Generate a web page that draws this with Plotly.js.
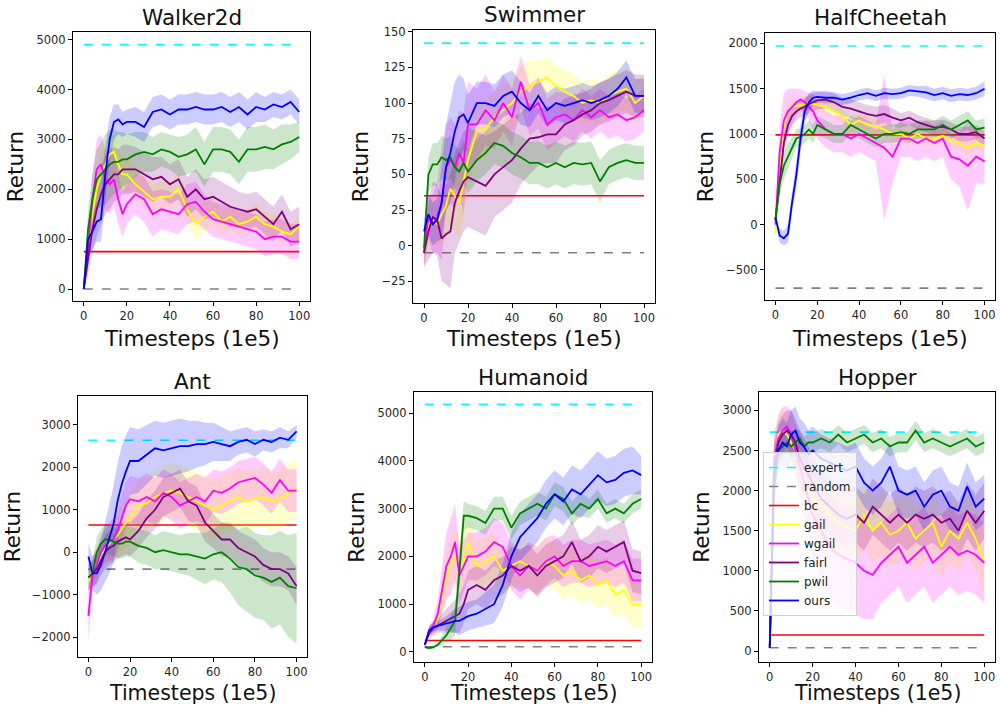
<!DOCTYPE html>
<html><head><meta charset="utf-8">
<script src="https://cdn.plot.ly/plotly-3.0.1.min.js"></script>
<style>html,body{margin:0;padding:0;background:#fff}#plot{width:1000px;height:706px}</style>
</head><body><div id="plot"></div>
<script>
// ---------- data ----------
const X = [0,2,4,6,8,10,12,14,16,18,20,24,28,32,36,40,44,48,52,56,60,64,68,72,76,80,84,88,92,96,100];
const METHODS = ['gail','wgail','fairl','pwil','ours'];
const PANELS = ['Walker2d','Swimmer','HalfCheetah','Ant','Humanoid','Hopper'];
const EXPERT = [4900, 142, 1970, 2640, 5180, 2730];
const RANDOM = [0, -5, -700, -400, 110, 40];
const BC = [750, 35, 990, 640, 240, 200];

// Walker2d
const W_gail = [0,700,1500,2000,2300,2500,2700,2750,2500,2300,2300,2100,1950,1800,1850,1850,2000,1600,1300,1450,1550,1350,1450,1300,1350,1450,1300,1250,1150,1100,1250];
const W_gail_sd = [0,300,400,450,450,450,400,400,350,350,350,300,300,300,300,300,300,300,300,300,300,250,250,250,250,250,250,250,250,200,200];
const W_wgail = [0,800,1800,2400,2500,2200,2100,2200,1800,1500,1700,1900,1800,1500,1600,1550,1500,1700,1750,1550,1400,1350,1300,1250,1200,1150,1000,1050,1050,950,950];
const W_wgail_sd = [0,300,500,600,600,600,600,550,500,450,400,400,450,450,400,400,400,400,400,350,350,350,350,350,350,350,350,350,350,350,350];
const W_fairl = [0,600,1200,1600,1900,2100,2200,2300,2300,2400,2400,2400,2300,2200,2250,2100,2200,1850,2000,1800,1850,1750,1650,1600,1550,1600,1450,1300,1550,1200,1300];
const W_fairl_sd = [0,300,450,550,600,600,600,550,500,500,500,450,450,450,400,400,400,400,400,400,400,400,400,350,350,350,350,350,350,350,350];
const W_pwil = [0,1200,1800,2200,2300,2400,2500,2550,2550,2600,2600,2700,2750,2700,2800,2750,2650,2700,2800,2500,2800,2800,2750,2550,2800,2800,2850,2800,2900,2950,3050];
const W_pwil_sd = [0,400,500,600,650,700,700,650,600,550,500,450,400,350,350,350,400,400,450,450,450,450,450,450,450,450,450,400,400,350,300];
const W_ours = [0,1000,1150,1350,1400,2300,3000,3350,3400,3300,3350,3350,3250,3550,3600,3500,3600,3600,3650,3600,3600,3650,3550,3650,3500,3650,3600,3700,3650,3750,3550];
const W_ours_sd = [0,300,350,400,450,550,450,350,300,250,250,300,300,300,300,300,300,300,300,300,300,300,300,300,300,300,250,250,250,250,250];

// Swimmer
const S_gail = [-5,15,18,15,22,28,40,35,30,45,60,80,82,90,95,100,108,112,115,118,112,108,105,100,102,100,105,108,110,100,105];
const S_gail_sd = [10,15,15,15,20,25,25,25,25,25,20,20,20,18,18,18,18,18,15,15,15,15,15,15,15,15,15,15,15,15,15];
const S_wgail = [-5,20,15,20,30,55,60,55,65,58,85,85,95,88,100,90,115,95,100,85,90,92,88,95,90,95,90,92,88,90,95];
const S_wgail_sd = [10,15,20,25,40,30,30,30,30,35,30,25,25,20,20,20,18,18,18,18,18,15,15,15,15,15,15,15,15,15,15];
const S_fairl = [-5,10,20,18,5,8,10,30,38,45,48,45,42,50,55,60,68,75,76,78,78,85,88,92,95,100,102,105,108,105,105];
const S_fairl_sd = [10,20,25,25,30,35,40,35,35,35,35,35,35,30,30,30,25,25,20,20,20,18,18,15,15,15,15,15,15,15,15];
const S_pwil = [-2,50,57,57,62,60,62,55,52,58,52,60,65,72,70,65,62,58,58,55,58,55,58,57,58,45,55,58,60,58,58];
const S_pwil_sd = [5,12,15,15,15,15,15,15,15,15,15,15,15,15,15,15,15,15,15,15,15,15,15,15,15,15,12,12,12,12,12];
const S_ours = [10,22,15,18,30,55,65,80,90,92,86,100,100,98,105,108,100,95,105,95,100,98,100,102,100,102,105,110,118,105,105];
const S_ours_sd = [8,15,15,15,25,30,35,35,30,25,20,15,15,15,15,15,15,12,12,12,12,12,12,12,12,12,12,12,12,12,12];

// HalfCheetah
const H_gail = [-100,600,1100,1250,1300,1310,1320,1330,1340,1330,1320,1300,1250,1200,1100,1150,1100,1080,1050,1000,1000,950,1000,950,950,980,920,900,850,900,870];
const H_gail_sd = [100,150,120,100,90,80,80,80,80,80,80,80,80,80,80,80,80,80,80,80,80,80,80,80,80,80,80,80,80,80,80];
const H_wgail = [0,800,1150,1250,1300,1350,1380,1350,1300,1250,1150,1050,1000,1000,950,1000,950,900,850,750,950,950,900,950,900,950,750,720,650,750,700];
const H_wgail_sd = [100,300,300,250,200,150,120,120,150,200,200,200,200,200,200,200,200,200,800,300,200,200,200,200,200,200,250,300,500,300,250];
const H_fairl = [50,500,900,1100,1200,1250,1280,1300,1330,1350,1370,1380,1350,1300,1280,1250,1220,1200,1220,1180,1150,1180,1130,1100,1070,1080,1050,1000,1000,1020,950];
const H_fairl_sd = [80,150,120,100,100,100,100,100,100,100,100,100,100,100,100,100,100,100,100,100,80,80,80,80,80,80,80,80,80,80,80];
const H_pwil = [50,450,650,750,850,950,970,1000,1050,1000,1100,1050,1000,1000,1100,1050,1000,950,1000,1000,1020,1000,1050,1050,1050,1100,1050,1100,1150,1050,1070];
const H_pwil_sd = [80,150,150,150,120,100,100,100,100,100,100,100,100,100,100,100,100,100,100,100,100,100,100,100,100,100,100,100,100,100,100];
const H_ours = [80,-120,-150,-100,250,550,950,1250,1350,1400,1410,1400,1400,1380,1400,1430,1450,1420,1450,1440,1450,1480,1470,1460,1430,1450,1420,1440,1430,1450,1500];
const H_ours_sd = [50,80,80,100,120,150,150,120,100,80,60,60,60,60,60,60,60,60,60,60,60,60,60,70,70,70,70,70,70,70,80];

// Ant
const A_gail = [-700,-400,-300,-100,100,200,300,400,550,700,800,1100,1150,1300,1400,1450,1400,1300,1200,1100,1000,1100,1200,1300,1200,1250,1300,1200,1250,1400,1500];
const A_gail_sd = [300,400,400,400,400,450,500,500,550,600,600,600,600,650,650,650,650,700,700,700,700,700,700,700,700,700,700,700,700,700,700];
const A_wgail = [-1500,-500,-300,0,150,250,300,500,800,1100,1250,1200,1300,1200,1400,1300,1100,1200,1300,1200,1450,1400,1500,1650,1700,1750,1600,1400,1700,1450,1450];
const A_wgail_sd = [600,400,400,400,400,450,500,500,550,550,550,550,550,550,550,550,550,550,550,550,500,500,500,500,500,500,500,500,500,500,500];
const A_fairl = [-600,-500,-400,-200,0,100,150,250,300,350,300,500,800,1000,1300,1400,1500,1200,1100,700,500,300,300,100,0,-100,-300,-400,-400,-500,-800];
const A_fairl_sd = [300,300,350,350,400,400,400,400,400,400,400,400,450,450,450,450,450,450,450,450,400,400,400,400,400,400,400,400,400,400,450];
const A_pwil = [-600,-500,0,200,300,300,250,200,200,250,250,150,100,0,50,0,-50,-50,-100,-150,-50,0,-150,-350,-400,-550,-600,-700,-600,-800,-850];
const A_pwil_sd = [300,300,350,350,350,350,350,350,350,350,350,400,400,400,450,450,450,500,550,600,600,700,800,900,1000,1000,1000,1100,1100,1200,1300];
const A_ours = [-100,-500,-500,-300,0,300,650,1200,1600,1900,2150,2150,2300,2450,2400,2450,2500,2500,2550,2550,2600,2550,2500,2600,2650,2550,2650,2600,2700,2650,2850];
const A_ours_sd = [300,400,500,600,700,800,900,900,900,850,800,750,700,650,650,650,650,600,550,500,450,400,350,300,300,300,250,250,250,200,150];

// Humanoid
const M_gail = [150,450,500,700,1200,1600,1900,2000,1800,1900,2300,1800,1900,2000,1700,1800,1900,1800,1700,1900,1800,1600,1700,1500,1600,1400,1500,1200,1300,1000,1000];
const M_gail_sd = [50,100,150,250,400,500,500,600,600,600,550,500,500,500,500,500,500,500,500,500,500,500,500,500,500,500,500,500,500,500,500];
const M_wgail = [150,450,550,800,1300,1800,2000,2300,1600,1800,2000,2000,2100,2300,2200,1800,1600,1800,1700,1900,2000,1800,1900,1900,1800,1850,1900,1800,1900,1500,1500];
const M_wgail_sd = [50,100,150,300,500,700,800,800,600,550,500,500,500,500,500,500,500,500,500,500,450,450,450,450,450,450,450,450,450,450,450];
const M_fairl = [150,400,500,550,600,650,700,750,800,1000,1300,1400,1300,1500,1600,1800,1700,1800,1600,1800,1900,2000,2300,1900,2000,2200,2100,2200,2300,1700,1650];
const M_fairl_sd = [50,100,150,150,200,250,300,350,400,400,400,400,400,400,400,400,450,450,450,450,450,450,450,450,450,450,450,450,450,450,450];
const M_pwil = [100,80,100,150,250,350,500,650,1700,2850,2850,2800,2700,3000,3000,2600,2900,3000,3100,3000,3300,3200,2900,3100,3000,3200,2900,3000,2900,3100,3200];
const M_pwil_sd = [30,30,40,50,100,150,250,300,400,300,250,250,250,250,250,250,250,250,250,250,250,250,250,250,200,200,200,200,200,200,200];
const M_ours = [150,450,520,550,570,600,620,650,650,700,750,800,900,1000,1400,2000,2400,2600,2800,3100,3300,3150,3400,3300,3500,3700,3550,3600,3750,3800,3700];
const M_ours_sd = [50,100,100,100,120,150,200,250,300,300,300,300,350,400,450,500,500,500,500,500,500,500,500,500,500,500,500,500,500,500,400];

// Hopper
const P_gail = [40,2300,2700,2750,2700,2600,2500,2300,2100,2000,1900,1800,1700,1600,1550,1500,1700,1500,1600,1450,1500,1600,1400,1500,1600,1300,1500,1400,1600,1400,1100];
const P_gail_sd = [20,300,250,250,250,300,300,350,350,350,400,400,400,400,400,400,400,400,400,400,400,400,400,400,400,400,400,400,400,400,400];
const P_wgail = [40,2400,2650,2750,2800,2700,2500,2300,2100,1900,1700,1500,1300,1200,1150,1100,1000,950,1100,1200,1300,1100,1200,1300,1100,1200,1300,1200,1250,1200,1100];
const P_wgail_sd = [20,300,300,300,250,300,350,400,450,500,550,600,650,650,650,650,600,550,500,500,500,500,500,500,500,500,500,500,500,500,500];
const P_fairl = [40,2300,2600,2700,2750,2700,2600,2400,2300,2200,2100,1900,1800,1700,1650,1700,1600,1800,1700,1600,1700,1600,1700,1650,1700,1600,1650,1500,1750,1600,1750];
const P_fairl_sd = [20,300,250,250,250,300,300,350,350,350,350,350,350,350,350,350,350,350,350,350,350,350,350,350,350,350,350,350,350,350,350];
const P_pwil = [40,2000,2500,2550,2600,2550,2600,2650,2550,2600,2600,2650,2600,2700,2600,2650,2700,2600,2650,2550,2600,2600,2750,2600,2650,2600,2550,2600,2650,2550,2600];
const P_pwil_sd = [20,300,200,150,150,120,120,120,120,120,120,120,120,120,120,120,120,120,120,120,120,120,120,120,120,120,120,120,120,120,120];
const P_ours = [40,2200,2500,2600,2550,2700,2750,2600,2550,2450,2500,2400,2350,2300,2250,2300,2100,2000,2100,2300,2000,1950,2000,1800,1950,2000,1800,1750,2050,1800,1900];
const P_ours_sd = [20,300,300,300,300,300,300,300,300,300,300,300,300,300,300,300,300,300,300,300,300,300,300,300,300,300,300,300,300,300,300];

const Y_TICKS = [[0,1000,2000,3000,4000,5000],[-25,0,25,50,75,100,125,150],[-500,0,500,1000,1500,2000],[-2000,-1000,0,1000,2000,3000],[0,1000,2000,3000,4000,5000],[0,500,1000,1500,2000,2500,3000]];
const X_TICKS = [0,20,40,60,80,100];
const X_TITLE = 'Timesteps (1e5)';
const Y_TITLE = 'Return';

// ---------- presentation ----------
const SERIES = [
  [[W_gail,W_gail_sd],[W_wgail,W_wgail_sd],[W_fairl,W_fairl_sd],[W_pwil,W_pwil_sd],[W_ours,W_ours_sd]],
  [[S_gail,S_gail_sd],[S_wgail,S_wgail_sd],[S_fairl,S_fairl_sd],[S_pwil,S_pwil_sd],[S_ours,S_ours_sd]],
  [[H_gail,H_gail_sd],[H_wgail,H_wgail_sd],[H_fairl,H_fairl_sd],[H_pwil,H_pwil_sd],[H_ours,H_ours_sd]],
  [[A_gail,A_gail_sd],[A_wgail,A_wgail_sd],[A_fairl,A_fairl_sd],[A_pwil,A_pwil_sd],[A_ours,A_ours_sd]],
  [[M_gail,M_gail_sd],[M_wgail,M_wgail_sd],[M_fairl,M_fairl_sd],[M_pwil,M_pwil_sd],[M_ours,M_ours_sd]],
  [[P_gail,P_gail_sd],[P_wgail,P_wgail_sd],[P_fairl,P_fairl_sd],[P_pwil,P_pwil_sd],[P_ours,P_ours_sd]]
];
const COLORS = {gail:[255,255,0], wgail:[255,0,255], fairl:[128,0,128], pwil:[0,128,0], ours:[0,0,255]};
// pixel boxes [left, right, top, bottom] and y ranges
const BOX = [[73,310,32,301],[413,655,30,303],[765,995,33,300],[78,307,396,657],[414,652,392,662],[759,995,392,662]];
const XTITLE_Y = [338,338,338,693,693,693];
const XTITLE_SIZE = [21.5,21.5,21.5,20.5,20.5,20.5];
const YR = [[-240,5154],[-40.2,151.2],[-831,2114],[-2471,3683],[-210,5440],[-137,3230]];
const W = 1000, H = 706;
const FONT = 'DejaVu Sans, Liberation Sans, sans-serif';

const traces = [];
const layout = {
  width: W, height: H, margin: {l:0,r:0,t:0,b:0},
  paper_bgcolor:'#fff', plot_bgcolor:'#fff', showlegend:true,
  font: {family: FONT, color:'#000'},
  legend: {x: 763/W, y: 1-452/H, xanchor:'left', yanchor:'top', bgcolor:'rgba(255,255,255,0.8)',
           bordercolor:'#d0d0d0', borderwidth:1, font:{size:12, family:FONT, color:'#222'}, tracegroupgap:0, itemwidth:30},
  annotations: []
};
const rgb = (c,a) => a===undefined ? `rgb(${c[0]},${c[1]},${c[2]})` : `rgba(${c[0]},${c[1]},${c[2]},${a})`;

PANELS.forEach((name, i) => {
  const k = i+1;
  const xa = 'x'+(k===1?'':k), ya = 'y'+(k===1?'':k);
  const b = BOX[i];
  const last = (i === PANELS.length-1);
  layout['xaxis'+(k===1?'':k)] = {
    domain:[b[0]/W, b[1]/W], range:[-5,105], anchor: ya,
    tickvals: X_TICKS, ticks:'outside', ticklen:4, tickcolor:'#000', tickwidth:1,
    showline:true, mirror:true, linecolor:'#000', linewidth:1, showgrid:false, zeroline:false,
    tickfont:{size:11.5, color:'#262626', family:FONT}, automargin:false
  };
  layout['yaxis'+(k===1?'':k)] = {
    domain:[1-b[3]/H, 1-b[2]/H], range:YR[i], anchor: xa,
    tickvals: Y_TICKS[i], ticks:'outside', ticklen:4, tickcolor:'#000', tickwidth:1,
    showline:true, mirror:true, linecolor:'#000', linewidth:1, showgrid:false, zeroline:false,
    tickfont:{size:11.5, color:'#262626', family:FONT}, automargin:false,
    title:{text:Y_TITLE, font:{size:21.5, family:FONT, color:'#111'}, standoff:6}
  };
  layout.annotations.push({text:name, xref:'paper', yref:'paper', x:(b[0]+b[1])/2/W, y:1-b[2]/H,
    xanchor:'center', yanchor:'middle', yshift:15, showarrow:false, font:{size:21.5, family:FONT, color:'#111'}});
  layout.annotations.push({text:X_TITLE, xref:'paper', yref:'paper', x:(b[0]+b[1])/2/W, y:1-XTITLE_Y[i]/H,
    xanchor:'center', yanchor:'middle', showarrow:false, font:{size:XTITLE_SIZE[i], family:FONT, color:'#111'}});

  // baseline lines
  traces.push({x:[0,100], y:[EXPERT[i],EXPERT[i]], xaxis:xa, yaxis:ya, mode:'lines', name:'expert',
    line:{color:'rgb(0,255,255)', width:1.6, dash:'dash'}, showlegend:last});
  traces.push({x:[0,100], y:[RANDOM[i],RANDOM[i]], xaxis:xa, yaxis:ya, mode:'lines', name:'random',
    line:{color:'rgb(128,128,128)', width:1.6, dash:'dash'}, showlegend:last});
  traces.push({x:[0,100], y:[BC[i],BC[i]], xaxis:xa, yaxis:ya, mode:'lines', name:'bc',
    line:{color:'rgb(255,0,0)', width:1.6}, showlegend:last});

  METHODS.forEach((m, j) => {
    const mean = SERIES[i][j][0], sd = SERIES[i][j][1];
    const up = mean.map((v,q)=>v+sd[q]);
    const lo = mean.map((v,q)=>v-sd[q]);
    traces.push({x: X.concat(X.slice().reverse()), y: up.concat(lo.slice().reverse()),
      xaxis:xa, yaxis:ya, mode:'lines', fill:'toself', fillcolor: rgb(COLORS[m], 0.2),
      line:{width:0, color:'rgba(0,0,0,0)'}, showlegend:false, hoverinfo:'skip'});
  });
  METHODS.forEach((m, j) => {
    traces.push({x: X, y: SERIES[i][j][0], xaxis:xa, yaxis:ya, mode:'lines', name:m,
      line:{color: rgb(COLORS[m]), width:1.8}, showlegend:last});
  });
});

Plotly.newPlot('plot', traces, layout, {staticPlot:true, displayModeBar:false});
</script></body></html>
